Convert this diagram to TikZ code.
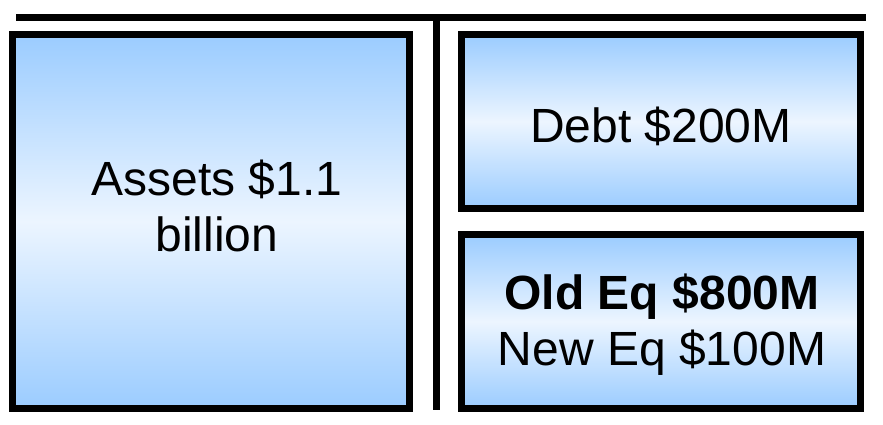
\documentclass[tikz,border=0pt]{standalone}
\usepackage{fontspec}
\setmainfont{Liberation Sans}
\definecolor{boxblue}{RGB}{155,204,255}
\definecolor{boxwhite}{RGB}{236,245,255}
\tikzset{
  panel/.style={draw=black, line width=7pt, rectangle, inner sep=0pt, outer sep=0pt,
    top color=boxblue, bottom color=boxblue, middle color=boxwhite},
  bar/.style={line width=7pt, black},
  lbl/.style={align=center, inner sep=0pt, font=\fontsize{48}{56}\selectfont}
}
\begin{document}
\begin{tikzpicture}[x=1pt,y=-1pt]
\useasboundingbox (0,0) rectangle (883,425);
% top bar and divider
\coordinate (tl) at (16,17.5);
\coordinate (tr) at (866,17.5);
\coordinate (vt) at (436,21);
\coordinate (vb) at (436,410);
\draw[bar] (tl) -- (tr);
\draw[bar] (vt) -- (vb);
% boxes
\node[panel, minimum width=397pt, minimum height=374pt] (assets) at (211,221.5) {};
\node[panel, minimum width=399pt, minimum height=174pt] (debt) at (661,121.5) {};
\node[panel, minimum width=399pt, minimum height=174pt] (equity) at (661,321.5) {};
% labels
\node[lbl] (assetsl) at (217,206) {Assets \$1.1\\billion};
\node[lbl] (debtl) at (661,126) {Debt \$200M};
\node[lbl] (equityl) at (662,325) {\textbf{Old Eq \$800M}\\New Eq \$100M};
\end{tikzpicture}
\end{document}
